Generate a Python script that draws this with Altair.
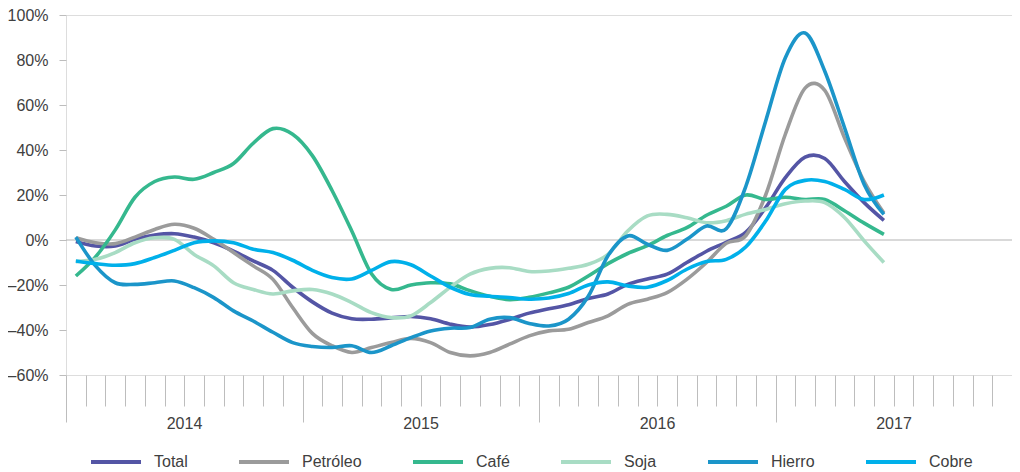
import altair as alt
import pandas as pd

# Monthly values, Jan 2014 .. Jun 2017 (42 months), % year-on-year
series_names = ["Total", "Petróleo", "Café", "Soja", "Hierro", "Cobre"]
series_colors = ["#5455a5", "#9b9b9b", "#35b88e", "#a8dcc4", "#1b95c9", "#00b0ea"]

total = [-0.7, -2.7, -2.7, 0.3, 2.2, 2.8, 1.3, -1.2, -4.9, -9.3, -13.5, -21.0,
         -27.5, -32.5, -35.0, -35.2, -34.6, -34.0, -35.0, -37.4, -38.7, -37.6, -35.3, -32.5,
         -30.6, -28.8, -26.0, -24.0, -19.7, -17.3, -15.2, -10.0, -5.0, -1.0, 3.5, 14.4,
         27.7, 36.8, 36.2, 26.0, 16.6, 8.7]
petroleo = [1.0, -1.2, -1.6, 1.3, 4.7, 7.0, 5.2, 0.3, -5.6, -11.5, -17.5, -30.0,
            -41.5, -47.0, -50.0, -47.8, -45.6, -43.7, -45.6, -50.0, -51.5, -50.0, -46.3, -42.6,
            -40.4, -39.7, -36.7, -33.7, -28.6, -26.3, -23.4, -17.5, -10.0, -1.5, 2.0, 20.0,
            47.0, 67.5, 66.5, 45.4, 26.0, 12.0]
cafe = [-16.0, -7.5, 4.5, 19.0, 26.0, 28.0, 27.0, 30.0, 34.0, 43.0, 49.5, 47.0,
        37.5, 22.0, 4.0, -15.0, -22.0, -20.0, -19.0, -19.5, -22.5, -25.0, -26.5, -25.5,
        -23.5, -21.0, -16.0, -10.5, -6.0, -2.5, 2.0, 5.5, 11.0, 15.0, 20.0, 18.0,
        19.0, 18.0, 18.0, 13.0, 7.5, 2.5]
soja = [-9.6, -8.6, -5.6, -1.2, 1.0, 0.3, -6.4, -11.5, -19.0, -22.0, -24.0, -22.6,
        -22.0, -24.0, -27.8, -32.3, -34.5, -33.7, -27.8, -21.0, -15.2, -12.6, -12.3, -14.0,
        -13.8, -12.6, -10.8, -6.4, 4.0, 10.7, 11.4, 9.9, 7.7, 8.6, 11.5, 13.6,
        16.1, 17.3, 16.6, 10.0, -0.4, -10.0]
hierro = [1.3, -11.5, -19.0, -19.7, -19.0, -18.2, -21.2, -25.6, -31.5, -36.0, -41.0, -45.6,
          -47.3, -47.8, -47.0, -50.0, -47.0, -43.4, -40.4, -39.2, -38.9, -35.2, -34.5, -37.1,
          -38.2, -35.2, -25.0, -7.0, 1.8, -1.9, -4.6, 0.3, 6.2, 5.0, 24.0, 52.8,
          81.0, 92.0, 75.0, 50.0, 24.7, 11.4]
cobre = [-9.3, -10.5, -11.2, -10.5, -7.8, -4.6, -1.2, -0.4, -1.2, -4.1, -5.6, -9.0,
         -13.5, -16.7, -17.3, -13.5, -9.6, -11.0, -16.0, -21.0, -24.2, -25.0, -25.6, -26.3,
         -25.8, -23.8, -20.0, -18.6, -20.4, -21.0, -18.0, -13.0, -9.6, -8.6, -3.0, 8.4,
         22.5, 26.5, 26.0, 22.5, 18.0, 20.0]

y_ticks = [-60, -40, -20, 0, 20, 40, 60, 80, 100]
month_ticks = list(range(49))  # month boundaries Jan 2014 .. Dec 2017
first_year = 2014

values = [total, petroleo, cafe, soja, hierro, cobre]
rows = []
for name, vals in zip(series_names, values):
    for i, v in enumerate(vals):
        rows.append({"mes": i + 0.5, "serie": name, "valor": v})
df = pd.DataFrame(rows)

FONT = "Liberation Sans"
TXT = "#404040"

x_scale = alt.Scale(domain=[0, 48], nice=False, zero=False)
y_scale = alt.Scale(domain=[-60, 100], nice=False, zero=False)

x_axis = alt.Axis(
    values=month_ticks,
    title=None,
    domain=False,
    grid=False,
    tickColor="#bdbdbd",
    tickWidth=1,
    tickSize={"condition": {"test": "datum.value % 12 === 0", "value": 47}, "value": 31},
    labelExpr=f"datum.value % 12 === 0 && datum.value < 48 ? '' + ({first_year} + datum.value / 12) : ''",
    labelOffset=118,
    labelPadding=-7,
    labelAlign="center",
    labelOverlap=False,
    labelFlush=False,
    labelBound=False,
    labelFont=FONT,
    labelFontSize=16,
    labelColor=TXT,
)

y_axis = alt.Axis(
    values=y_ticks,
    title=None,
    domain=False,
    grid=False,
    tickColor="#bdbdbd",
    tickSize=7,
    labelPadding=11,
    labelExpr="datum.value < 0 ? '\u2013' + abs(datum.value) + '%' : datum.value + '%'",
    labelFont=FONT,
    labelFontSize=16,
    labelColor=TXT,
)

zero = alt.Chart(pd.DataFrame({"v": [0]})).mark_rule(color="#b3b3b3", strokeWidth=1).encode(
    y=alt.Y("v:Q", scale=y_scale, axis=y_axis)
)

lines = alt.Chart(df).mark_line(strokeWidth=3.6, interpolate="cardinal").encode(
    x=alt.X("mes:Q", scale=x_scale, axis=x_axis),
    y=alt.Y("valor:Q", scale=y_scale, axis=y_axis),
    color=alt.Color(
        "serie:N",
        scale=alt.Scale(domain=series_names, range=series_colors),
        sort=series_names,
        legend=alt.Legend(
            title=None,
            orient="none",
            direction="horizontal",
            legendX=23,
            legendY=420,
            symbolType="stroke",
            symbolSize=2500,
            symbolStrokeWidth=4,
            labelFont=FONT,
            labelFontSize=16,
            labelColor=TXT,
            labelOffset=11,
            columnPadding=43,
            padding=0,
        ),
    ),
    order=alt.Order("serie_order:Q"),
).transform_calculate(
    serie_order=f"indexof({series_names!r}, datum.serie)"
)

chart = alt.layer(zero, lines).properties(
    width=946,
    height=360,
    autosize=alt.AutoSizeParams(type="none"),
    padding={"left": 58, "top": 7, "right": 0, "bottom": 96},
).configure_view(stroke=None).configure(background="white")

chart.save("out.html", embed_options={"renderer": "svg", "actions": False})
